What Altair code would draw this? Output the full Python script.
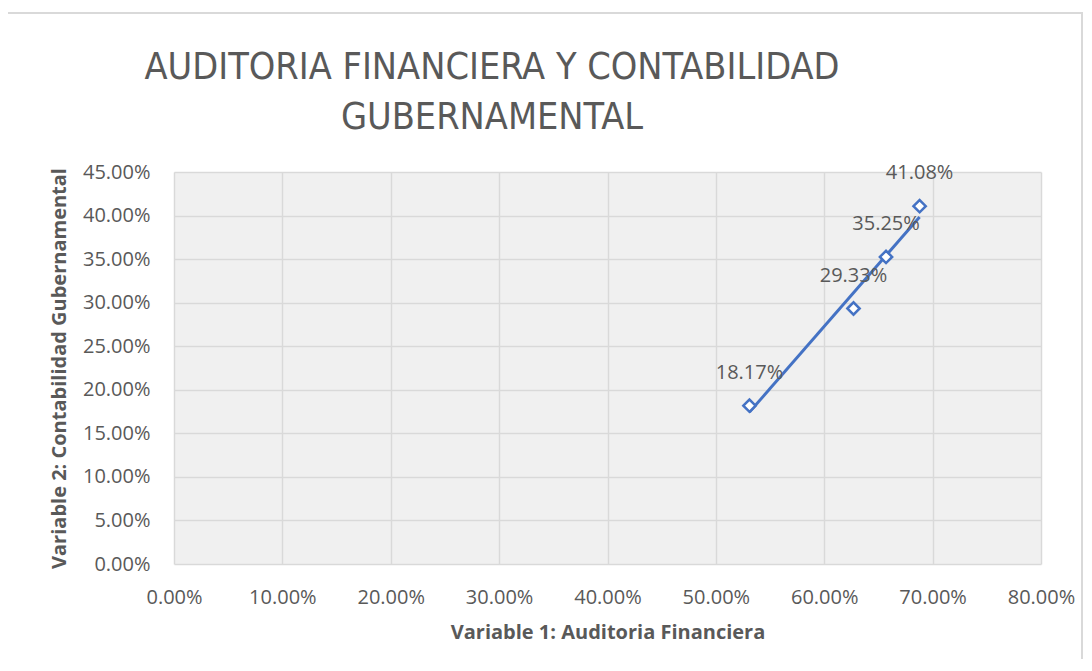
import altair as alt
import pandas as pd

# Data
x_vals = [0.531, 0.627, 0.657, 0.688]   # Variable 1: Auditoria Financiera
y_vals = [0.1817, 0.2933, 0.3525, 0.4108]  # Variable 2: Contabilidad Gubernamental
x_ticks = [0.0, 0.1, 0.2, 0.3, 0.4, 0.5, 0.6, 0.7, 0.8]
y_ticks = [0.0, 0.05, 0.10, 0.15, 0.20, 0.25, 0.30, 0.35, 0.40, 0.45]

df = pd.DataFrame({"x": x_vals, "y": y_vals})

BLUE = "#4472C4"
GRAY_TXT = "#595959"
FONT = "Open Sans"
TITLE_FONT = "Liberation Sans Narrow, DejaVu Sans Condensed, sans-serif"

xscale = alt.Scale(domain=[0, 0.8], nice=False, zero=False)
yscale = alt.Scale(domain=[0, 0.45], nice=False, zero=False)

xenc = alt.X("x:Q", scale=xscale,
             axis=alt.Axis(values=x_ticks, format=".2%", labelFlush=False,
                           labelOverlap=False,
                           title="Variable 1: Auditoria Financiera"))
yenc = alt.Y("y:Q", scale=yscale,
             axis=alt.Axis(values=y_ticks, format=".2%", labelFlush=False,
                           labelOverlap=False,
                           title="Variable 2: Contabilidad Gubernamental"))

base = alt.Chart(df)

trend = base.transform_regression("x", "y").mark_line(
    color=BLUE, strokeWidth=3
).encode(x=xenc, y=yenc)

points = base.mark_point(
    shape="diamond", size=150, filled=True, fill="white",
    stroke=BLUE, strokeWidth=2.5, opacity=1
).encode(x=xenc, y=yenc)

labels = base.mark_text(
    font=FONT, fontSize=20, color=GRAY_TXT, dy=-33, baseline="middle", align="center"
).encode(x=xenc, y=yenc, text=alt.Text("y:Q", format=".2%"))

border = alt.Chart(df).mark_rect(
    fill=None, stroke="#d9d9d9", strokeWidth=1.5, clip=False
).encode(
    x=alt.value(-170), x2=alt.value(908),
    y=alt.value(-159), y2=alt.value(495)
)

chart = alt.layer(border, trend, points, labels).properties(
    width=867,
    height=392,
    title=alt.Title(
        ["AUDITORIA FINANCIERA Y CONTABILIDAD", "GUBERNAMENTAL"],
        anchor="start", align="center", dx=318, frame="group",
        font=TITLE_FONT, fontSize=37.5, fontWeight="normal", color=GRAY_TXT,
        lineHeight=50, offset=0, dy=124
    ),
    autosize=alt.AutoSizeParams(type="none"),
    padding={"left": 166, "top": 164, "right": 43, "bottom": 95},
).configure_view(
    fill="#f0f0f0", stroke=None
).configure_axis(
    grid=True, gridColor="#d9d9d9", gridWidth=1.5,
    domain=False, ticks=False,
    labelFont=FONT, labelFontSize=20, labelColor=GRAY_TXT,
    titleFont=FONT, titleFontSize=20, titleFontWeight="bold", titleColor=GRAY_TXT,
).configure_axisX(
    labelPadding=23, titlePadding=15
).configure_axisY(
    labelPadding=24, titlePadding=13
)

chart.save("out.html", embed_options={"renderer": "svg", "actions": False})
